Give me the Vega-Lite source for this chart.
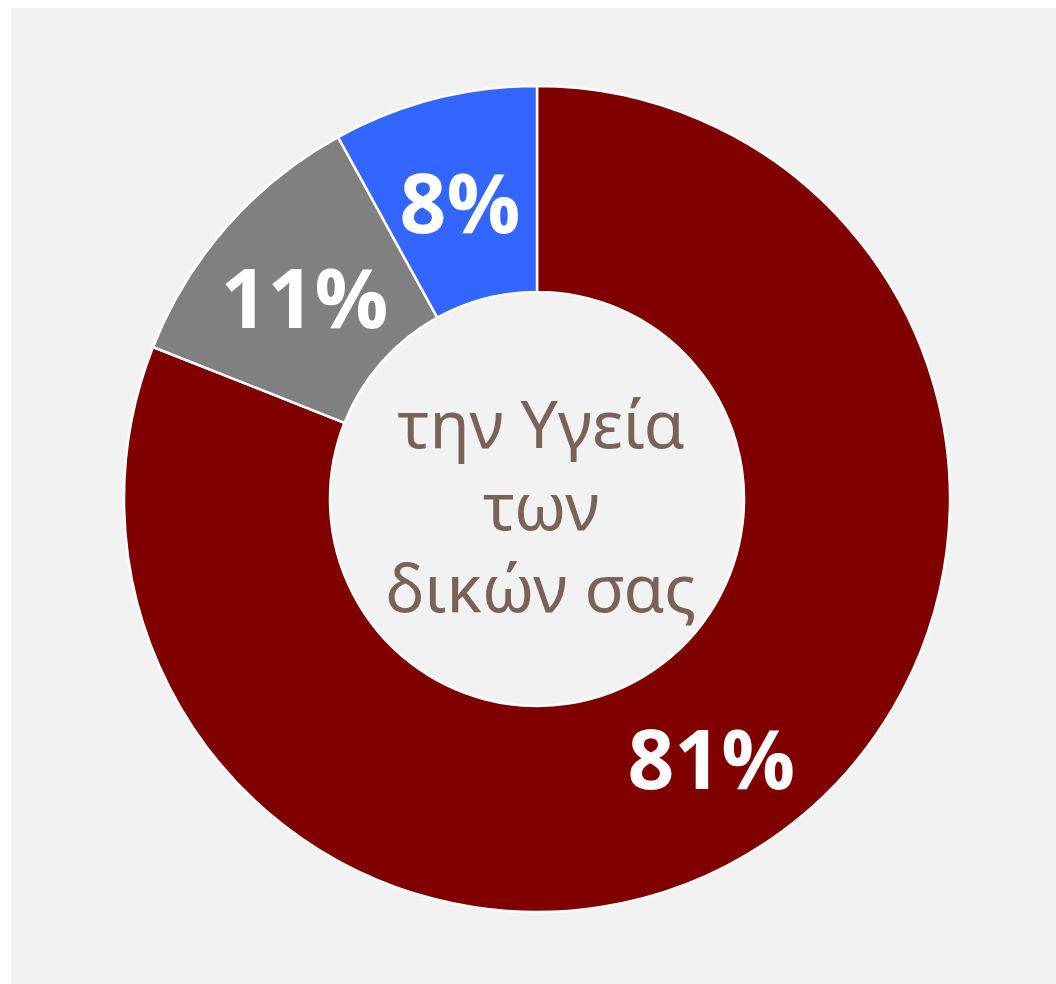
{
  "$schema": "https://vega.github.io/schema/vega-lite/v6.json",
  "autosize": {"type": "fit", "contains": "padding"},
  "width": 1056,
  "height": 984,
  "padding": {"left": 11, "top": 8, "right": 0, "bottom": 0},
  "background": "#ffffff",
  "config": {"view": {"stroke": null}},
  "layer": [
    {
      "data": {"values": [{"bg": 1}]},
      "mark": {"type": "rect", "color": "#f2f2f2"},
      "encoding": {}
    },
    {
      "data": {"name": "slices", "values": [
        {"cat": "yes", "value": 81, "label": "81%", "ord": 1},
        {"cat": "no", "value": 11, "label": "11%", "ord": 2},
        {"cat": "dk", "value": 8, "label": "8%", "ord": 3}
      ]},
      "layer": [
        {
          "mark": {"type": "arc", "radius": 413, "radius2": 207, "stroke": "#ffffff", "strokeWidth": 2.5, "xOffset": 3.5, "yOffset": 3},
          "encoding": {
            "theta": {"field": "value", "type": "quantitative", "stack": true},
            "order": {"field": "ord", "type": "quantitative"},
            "color": {"field": "cat", "type": "nominal", "legend": null,
              "scale": {"domain": ["yes", "no", "dk"], "range": ["#800000", "#808080", "#3366ff"]}}
          }
        },
        {
          "mark": {"type": "text", "radius": 310, "font": "Open Sans", "fontWeight": "bold", "fontSize": 82, "color": "#ffffff", "align": "center", "baseline": "middle", "xOffset": 3.5, "yOffset": 3, "dy": 9},
          "encoding": {
            "theta": {"field": "value", "type": "quantitative", "stack": true},
            "order": {"field": "ord", "type": "quantitative"},
            "text": {"field": "label", "type": "nominal"}
          }
        }
      ]
    },
    {
      "data": {"values": [{"t": ["την Υγεία", "των", "δικών σας"]}]},
      "mark": {"type": "text", "font": "Noto Sans", "fontSize": 66, "lineHeight": 82, "color": "#7a6258", "align": "center", "baseline": "middle", "xOffset": 7.5, "yOffset": 3, "dy": -71},
      "encoding": {"text": {"field": "t"}}
    }
  ]
}
